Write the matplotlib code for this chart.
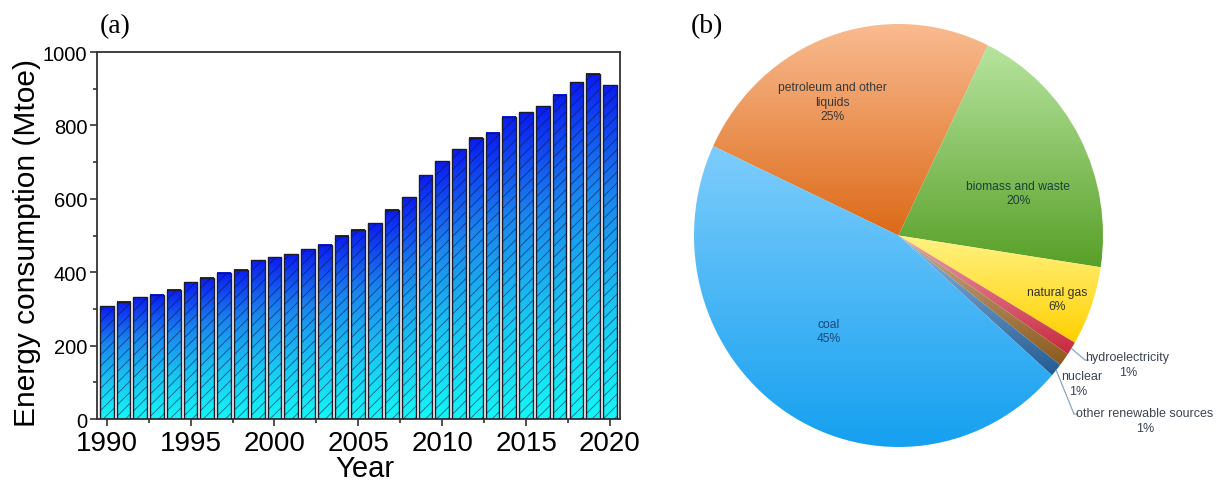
import numpy as np
import matplotlib
matplotlib.use("Agg")
import matplotlib.pyplot as plt
from matplotlib.colors import LinearSegmentedColormap
from matplotlib.ticker import MultipleLocator

# ---- data -------------------------------------------------------------
years = list(range(1990, 2021))
consumption = [307, 319, 332, 339, 352, 372, 385, 398, 407, 432,
               441, 449, 463, 475, 500, 516, 534, 570, 604, 664,
               702, 735, 767, 780, 823, 836, 852, 884, 918, 941, 909]

sources = ["petroleum and other\nliquids", "biomass and waste", "natural gas",
           "hydroelectricity", "nuclear", "other renewable sources", "coal"]
shares = [25, 20, 6, 1, 1, 1, 45]

# ---- styling ----------------------------------------------------------
plt.rcParams["font.family"] = ["Liberation Sans", "DejaVu Sans"]
plt.rcParams["hatch.linewidth"] = 0.6

W, H = 1217, 489
fig = plt.figure(figsize=(W / 100, H / 100), dpi=100)
fig.patch.set_facecolor("white")

# ---- (a) bar chart ----------------------------------------------------
ax = fig.add_axes([97 / W, 1 - 420 / H, (620 - 97) / W, (420 - 53) / H])
bar_w = 0.82
bar_cmap = LinearSegmentedColormap.from_list(
    "bar", ["#14f6f6", "#19c6f2", "#1a86ee", "#0a1cf2"])
grad = np.linspace(0, 1, 256).reshape(-1, 1)

bars = ax.bar(years, consumption, width=bar_w, color="none",
              edgecolor="none", zorder=2)
for b in bars:
    x0, w, h = b.get_x(), b.get_width(), b.get_height()
    ax.imshow(grad, cmap=bar_cmap, origin="lower", aspect="auto",
              extent=[x0, x0 + w, 0, h], zorder=1, interpolation="bilinear")
ax.bar(years, consumption, width=bar_w, color="none",
       edgecolor=(0.05, 0.05, 0.25, 0.6), linewidth=0, hatch="///", zorder=3)
ax.bar(years, consumption, width=bar_w, color="none",
       edgecolor="#1c1c2c", linewidth=1.0, zorder=4)

ax.set_xlim(1989.42, 2020.6)
ax.set_ylim(0, 1000)
ax.set_aspect("auto")
ax.set_xticks(range(1990, 2021, 5))
ax.xaxis.set_minor_locator(MultipleLocator(2.5))
ax.set_yticks(range(0, 1001, 200))
ax.yaxis.set_minor_locator(MultipleLocator(100))
ax.tick_params(which="both", direction="out", width=1.2, color="#333333",
               top=False, right=False)
ax.tick_params(axis="y", which="major", length=5, labelsize=14.5, pad=2)
ax.tick_params(axis="x", which="major", length=5, labelsize=20, pad=3)
ax.tick_params(which="minor", length=3)
for s in ax.spines.values():
    s.set_linewidth(1.3)
    s.set_color("#333333")

fig.text(365 / W, 1 - 469 / H, "Year", fontsize=21, ha="center", va="center")
fig.text(27.5 / W, 1 - 243.5 / H, "Energy consumption (Mtoe)", fontsize=21.5,
         rotation=90, ha="center", va="center")

fig.text(115 / W, 1 - 27 / H, "(a)", family="Liberation Serif",
         fontsize=20, ha="center", va="center")
fig.text(707 / W, 1 - 27 / H, "(b)", family="Liberation Serif",
         fontsize=20, ha="center", va="center")

# ---- (b) pie chart ----------------------------------------------------
rx, ry, cx, cy = 204.5, 211.5, 898.5, 236.5
pax = fig.add_axes([(cx - rx) / W, 1 - (cy + ry) / H, 2 * rx / W, 2 * ry / H])

slice_top = ["#f9bb90", "#b8e5a0", "#fff384", "#eaa0ae", "#c8ab8a",
             "#93b6d8", "#7ecdfb"]
slice_bottom = ["#dc6a18", "#58a028", "#ffd000", "#c8283f", "#8c5a1c",
                "#225c94", "#15a0f0"]

wedges, _ = pax.pie(shares, startangle=155, counterclock=False,
                    wedgeprops=dict(edgecolor="none", facecolor="none"))
for wdg, top, bot in zip(wedges, slice_top, slice_bottom):
    ext = wdg.get_path().get_extents()
    cmap = LinearSegmentedColormap.from_list("s", [bot, top])
    im = pax.imshow(grad, cmap=cmap, origin="lower", aspect="auto",
                    extent=[ext.x0, ext.x1, ext.y0, ext.y1],
                    interpolation="bilinear", zorder=1)
    im.set_clip_path(wdg)

pax.set_xlim(-1, 1)
pax.set_ylim(-1, 1)
pax.set_aspect("auto")
pax.axis("off")

# inside labels: radius and angular shift from slice centre
inside = {0: (0.71, 7.4, "#383838"), 1: (0.62, -8.8, "#1c403a"),
          2: (0.83, -1.6, "#333326"), 6: (0.566, -3.9, "#1a4a7a")}
for i, (r, shift, col) in inside.items():
    wdg = wedges[i]
    ang = np.deg2rad((wdg.theta1 + wdg.theta2) / 2 + shift)
    pax.text(r * np.cos(ang), r * np.sin(ang),
             f"{sources[i]}\n{shares[i]}%", ha="center", va="center",
             fontsize=8.7, color=col, linespacing=1.25, zorder=5)

# outside labels: name position, percent position, leader end (or None)
outside = {3: ((1.117, -0.574), (1.125, -0.644), (0.912, -0.589)),
           4: ((0.897, -0.664), (0.877, -0.734), None),
           5: ((1.205, -0.841), (1.205, -0.911), (0.858, -0.844))}
for i, (npos, ppos, lead) in outside.items():
    pax.text(*npos, sources[i], ha="center", va="center", fontsize=9,
             color="#3a4550", zorder=5, clip_on=False)
    pax.text(*ppos, f"{shares[i]}%", ha="center", va="center", fontsize=9,
             color="#3a4550", zorder=5, clip_on=False)
    if lead is not None:
        wdg = wedges[i]
        ang = np.deg2rad((wdg.theta1 + wdg.theta2) / 2)
        sx, sy = 1.0 * np.cos(ang), 1.0 * np.sin(ang)
        ex, ey = lead
        pax.plot([sx, ex, ex + 0.018], [sy, ey, ey], color="#8aa6bc",
                 lw=0.9, clip_on=False, zorder=4)

fig.savefig("out.png", dpi=100, facecolor="white")
